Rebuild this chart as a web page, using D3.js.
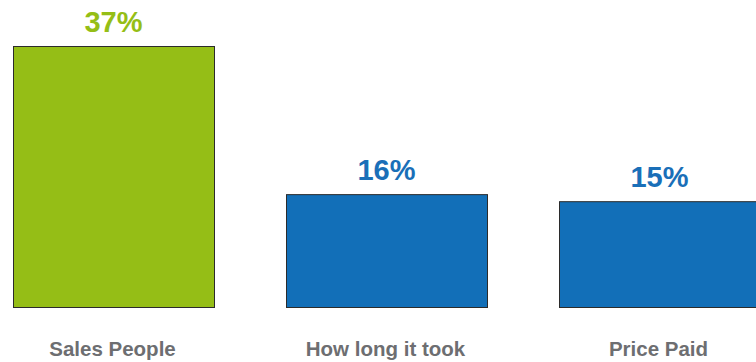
<!DOCTYPE html>
<html>
<head>
<meta charset="utf-8">
<script src="https://cdn.jsdelivr.net/npm/d3@7"></script>
<style>
  body { margin: 0; background: #fff; }
  svg { display: block; }
</style>
</head>
<body>
<svg class="chart" width="756" height="362"></svg>
<script>
// data
var categories = ["Sales People", "How long it took", "Price Paid"];
var values = [37, 16, 15];
var barColors = ["#95be16", "#126fb8", "#126fb8"];
var labelColors = ["#95be16", "#1a6fb8", "#1a6fb8"];

var svg = d3.select(".chart");

var x = d3.scaleBand()
    .domain(categories)
    .range([13, 760])
    .paddingInner(72 / 273)
    .paddingOuter(0);

var y = d3.scaleLinear()
    .domain([0, 37])
    .range([307, 46]);

// bars
svg.selectAll(".bar")
    .data(values)
    .join("rect")
    .attr("class", "bar")
    .attr("x", (d, i) => x(categories[i]) + 0.5)
    .attr("y", d => y(d) + 0.5)
    .attr("width", x.bandwidth())
    .attr("height", d => y(0) - y(d))
    .attr("fill", (d, i) => barColors[i])
    .attr("stroke", "#2b2b2b")
    .attr("stroke-width", 1);

// value labels
svg.selectAll(".value")
    .data(values)
    .join("text")
    .attr("class", "value")
    .attr("x", (d, i) => x(categories[i]) + x.bandwidth() / 2)
    .attr("y", d => y(d) - 14)
    .attr("text-anchor", "middle")
    .attr("font-family", "Liberation Sans, Arial, sans-serif")
    .attr("font-weight", "bold")
    .attr("font-size", "29px")
    .attr("fill", (d, i) => labelColors[i])
    .text(d => d + "%");

// category labels
svg.selectAll(".cat")
    .data(categories)
    .join("text")
    .attr("class", "cat")
    .attr("x", d => x(d) + x.bandwidth() / 2 - 1)
    .attr("y", 356)
    .attr("text-anchor", "middle")
    .attr("font-family", "Liberation Sans, Arial, sans-serif")
    .attr("font-weight", "bold")
    .attr("font-size", "20.5px")
    .attr("fill", "#6d6e71")
    .text(d => d);
</script>
</body>
</html>
